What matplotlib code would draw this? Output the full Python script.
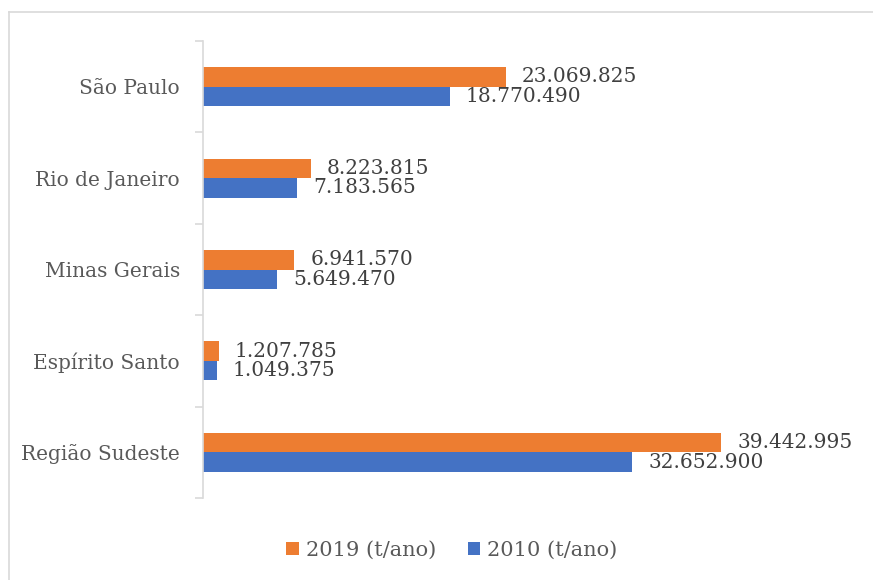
import matplotlib.pyplot as plt
from matplotlib.lines import Line2D
import numpy as np

# dados (t/ano)
categorias = ['São Paulo', 'Rio de Janeiro', 'Minas Gerais', 'Espírito Santo', 'Região Sudeste']
valores_2019 = [23069825, 8223815, 6941570, 1207785, 39442995]
valores_2010 = [18770490, 7183565, 5649470, 1049375, 32652900]

cor_2019 = '#ED7D31'
cor_2010 = '#4472C4'

plt.rcParams['font.family'] = ['DejaVu Serif']

fig = plt.figure(figsize=(8.73, 5.8), dpi=100)
W, H = 873, 580
ax = fig.add_axes([203 / W, (H - 498) / H, 657 / W, 457 / H])

# borda do gráfico (só aparecem topo e esquerda)
bx, by = 8.5 / W, 1 - 11.5 / H
fig.add_artist(Line2D([bx, 1.1], [by, by], transform=fig.transFigure, color='#D9D9D9', lw=1.2))
fig.add_artist(Line2D([bx, bx], [-0.1, by], transform=fig.transFigure, color='#D9D9D9', lw=1.2))

y = np.arange(len(categorias))
h = 0.213
ax.barh(y - h / 2, valores_2019, height=h, color=cor_2019, label='2019 (t/ano)')
ax.barh(y + h / 2, valores_2010, height=h, color=cor_2010, label='2010 (t/ano)')

def fmt(v):
    return f"{v:,}".replace(',', '.')

for yi, v in zip(y, valores_2019):
    ax.annotate(fmt(v), (v, yi - h / 2), xytext=(11.5, 0), textcoords='offset points',
                va='center', ha='left', fontsize=14.5, color='#404040')
for yi, v in zip(y, valores_2010):
    ax.annotate(fmt(v), (v, yi + h / 2), xytext=(11.5, 0), textcoords='offset points',
                va='center', ha='left', fontsize=14.5, color='#404040')

ax.set_xlim(0, 50000000)
ax.set_ylim(len(categorias) - 0.5, -0.5)

ax.set_yticks(y)
ax.set_yticklabels(categorias, fontsize=14.5, color='#595959')
ax.set_yticks(np.arange(-0.5, len(categorias)), minor=True)
ax.tick_params(axis='y', which='major', length=0, pad=16.5)
ax.tick_params(axis='y', which='minor', length=6, width=1.2, color='#D9D9D9')
ax.set_xticks([])

for s in ['top', 'right', 'bottom']:
    ax.spines[s].set_visible(False)
ax.spines['left'].set_color('#D9D9D9')
ax.spines['left'].set_linewidth(1.2)

leg = fig.legend(loc='center', bbox_to_anchor=(452 / W, 1 - 550 / H), ncol=2, frameon=False,
                 fontsize=15, handlelength=0.6, handleheight=0.6, handletextpad=0.35,
                 columnspacing=1.5)
for t in leg.get_texts():
    t.set_color('#595959')

fig.savefig('out.png', dpi=100)
